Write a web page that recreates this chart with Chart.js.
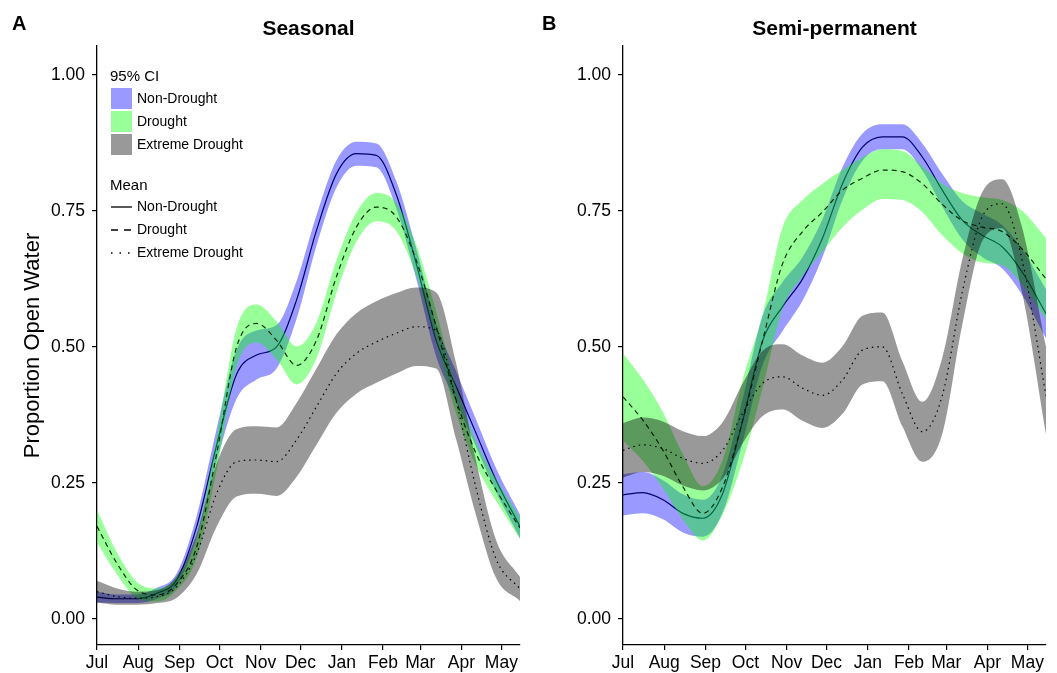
<!DOCTYPE html>
<html>
<head>
<meta charset="utf-8">
<script src="https://cdn.jsdelivr.net/npm/chart.js@4.4.1/dist/chart.umd.min.js"></script>
<style>
    html, body { margin: 0; padding: 0; background: #fff; }
    #wrap { position: relative; width: 1057px; height: 673px; }
    canvas { position: absolute; top: 0; }
    #seasonalChart { left: 0; }
    #semiChart { left: 530px; }
</style>
</head>
<body>
<div id="wrap">
    <canvas id="seasonalChart" width="530" height="673"></canvas>
    <canvas id="semiChart" width="527" height="673"></canvas>
</div>
<script>
// days since 1 July
const days = [0, 15, 30, 45, 60, 75, 90, 105, 120, 135, 150, 165, 180, 195, 210, 225, 240, 255, 270, 285, 300, 318];
const monthTicks = [0, 31, 62, 92, 123, 153, 184, 215, 243, 274, 304];
const monthLabels = ['Jul', 'Aug', 'Sep', 'Oct', 'Nov', 'Dec', 'Jan', 'Feb', 'Mar', 'Apr', 'May'];
const yTicks = [0, 0.25, 0.5, 0.75, 1];

// Seasonal wetlands
const seasNonMean = [0.040, 0.037, 0.037, 0.047, 0.072, 0.170, 0.320, 0.450, 0.485, 0.500, 0.586, 0.714, 0.818, 0.855, 0.852, 0.780, 0.653, 0.512, 0.427, 0.341, 0.255, 0.170];
const seasNonLo = [0.030, 0.029, 0.029, 0.037, 0.060, 0.150, 0.290, 0.405, 0.440, 0.460, 0.551, 0.686, 0.793, 0.833, 0.830, 0.755, 0.625, 0.482, 0.399, 0.316, 0.233, 0.148];
const seasNonHi = [0.050, 0.045, 0.045, 0.057, 0.084, 0.190, 0.350, 0.495, 0.530, 0.540, 0.621, 0.742, 0.843, 0.877, 0.874, 0.805, 0.681, 0.542, 0.455, 0.366, 0.277, 0.192];

const seasDrMean = [0.170, 0.102, 0.053, 0.044, 0.065, 0.133, 0.304, 0.500, 0.543, 0.512, 0.466, 0.512, 0.629, 0.720, 0.757, 0.739, 0.659, 0.537, 0.402, 0.304, 0.237, 0.167];
const seasDrLo = [0.140, 0.082, 0.038, 0.032, 0.053, 0.113, 0.274, 0.465, 0.508, 0.477, 0.431, 0.479, 0.599, 0.693, 0.731, 0.713, 0.631, 0.509, 0.377, 0.282, 0.217, 0.147];
const seasDrHi = [0.200, 0.122, 0.068, 0.056, 0.077, 0.153, 0.334, 0.535, 0.578, 0.547, 0.501, 0.545, 0.659, 0.747, 0.783, 0.765, 0.687, 0.565, 0.427, 0.326, 0.257, 0.187];

const seasExMean = [0.050, 0.041, 0.038, 0.041, 0.059, 0.120, 0.231, 0.289, 0.292, 0.289, 0.329, 0.390, 0.451, 0.488, 0.509, 0.525, 0.537, 0.530, 0.400, 0.240, 0.110, 0.055];
const seasExLo = [0.030, 0.026, 0.026, 0.029, 0.039, 0.083, 0.170, 0.225, 0.230, 0.226, 0.261, 0.320, 0.379, 0.414, 0.434, 0.451, 0.465, 0.460, 0.330, 0.190, 0.075, 0.033];
const seasExHi = [0.070, 0.056, 0.050, 0.053, 0.079, 0.157, 0.286, 0.349, 0.354, 0.352, 0.397, 0.460, 0.523, 0.562, 0.584, 0.599, 0.609, 0.600, 0.470, 0.290, 0.145, 0.077];

// Semi-permanent wetlands
const semiNonMean = [0.228, 0.232, 0.219, 0.194, 0.185, 0.231, 0.365, 0.512, 0.574, 0.625, 0.700, 0.800, 0.867, 0.886, 0.886, 0.849, 0.788, 0.733, 0.705, 0.684, 0.638, 0.561];
const semiNonLo = [0.190, 0.194, 0.183, 0.159, 0.151, 0.196, 0.325, 0.467, 0.529, 0.585, 0.665, 0.770, 0.842, 0.863, 0.863, 0.824, 0.758, 0.698, 0.665, 0.644, 0.596, 0.516];
const semiNonHi = [0.266, 0.270, 0.255, 0.229, 0.219, 0.266, 0.405, 0.557, 0.619, 0.665, 0.735, 0.830, 0.892, 0.909, 0.909, 0.874, 0.818, 0.768, 0.745, 0.724, 0.680, 0.606];

const semiDrMean = [0.408, 0.365, 0.310, 0.243, 0.194, 0.243, 0.365, 0.512, 0.653, 0.712, 0.748, 0.788, 0.810, 0.825, 0.822, 0.800, 0.762, 0.732, 0.720, 0.712, 0.680, 0.625];
const semiDrLo = [0.328, 0.290, 0.240, 0.183, 0.144, 0.193, 0.290, 0.425, 0.570, 0.630, 0.675, 0.720, 0.752, 0.772, 0.770, 0.748, 0.705, 0.672, 0.655, 0.650, 0.615, 0.550];
const semiDrHi = [0.488, 0.440, 0.380, 0.303, 0.244, 0.293, 0.440, 0.560, 0.720, 0.770, 0.800, 0.825, 0.848, 0.863, 0.860, 0.832, 0.800, 0.783, 0.775, 0.770, 0.750, 0.700];

const semiExMean = [0.310, 0.320, 0.313, 0.295, 0.286, 0.310, 0.378, 0.433, 0.445, 0.424, 0.411, 0.439, 0.494, 0.500, 0.414, 0.344, 0.410, 0.600, 0.739, 0.763, 0.660, 0.410];
const semiExLo = [0.260, 0.270, 0.263, 0.245, 0.236, 0.258, 0.323, 0.373, 0.385, 0.364, 0.351, 0.377, 0.431, 0.437, 0.354, 0.289, 0.340, 0.540, 0.694, 0.718, 0.600, 0.340];
const semiExHi = [0.360, 0.370, 0.363, 0.345, 0.336, 0.362, 0.433, 0.493, 0.505, 0.484, 0.471, 0.501, 0.557, 0.563, 0.474, 0.399, 0.480, 0.660, 0.784, 0.808, 0.720, 0.500];

const FONT = '"Liberation Sans", Arial, sans-serif';
const BLUE = 'rgba(0, 0, 255, 0.4)';
const GREEN = 'rgba(0, 255, 0, 0.4)';
const GREY = 'rgba(0, 0, 0, 0.4)';

function pts(vals) {
    return days.map((d, i) => ({ x: d, y: vals[i] }));
}

// two datasets: lower bound, then upper bound filled down to it
function ribbon(lo, hi, color, order) {
    return [{
        data: pts(lo),
        borderWidth: 0,
        pointRadius: 0,
        fill: false,
        cubicInterpolationMode: 'monotone',
        order: order
    }, {
        data: pts(hi),
        borderWidth: 0,
        pointRadius: 0,
        fill: '-1',
        backgroundColor: color,
        cubicInterpolationMode: 'monotone',
        order: order
    }];
}

function meanLine(vals, color, dash, order) {
    return {
        data: pts(vals),
        borderColor: color,
        borderWidth: 1.2,
        borderDash: dash,
        pointRadius: 0,
        fill: false,
        cubicInterpolationMode: 'monotone',
        order: order
    };
}

function drawLegend(ctx) {
    ctx.textAlign = 'left';
    ctx.textBaseline = 'alphabetic';
    ctx.font = '15px ' + FONT;
    ctx.fillText('95% CI', 110, 81);
    const keys = [[BLUE, 'Non-Drought', 88], [GREEN, 'Drought', 111], [GREY, 'Extreme Drought', 134]];
    ctx.font = '14px ' + FONT;
    keys.forEach(k => {
        ctx.fillStyle = k[0];
        ctx.fillRect(111, k[2], 21, 21);
        ctx.fillStyle = '#000';
        ctx.textBaseline = 'middle';
        ctx.fillText(k[1], 137, k[2] + 11);
    });
    ctx.textBaseline = 'alphabetic';
    ctx.font = '15px ' + FONT;
    ctx.fillText('Mean', 110, 190);
    const lines = [[[], 'Non-Drought', 207], [[7, 6], 'Drought', 230], [[1.5, 7], 'Extreme Drought', 253]];
    ctx.font = '14px ' + FONT;
    lines.forEach(l => {
        ctx.strokeStyle = '#000';
        ctx.lineWidth = 1.3;
        ctx.setLineDash(l[0]);
        ctx.beginPath();
        ctx.moveTo(111, l[2]);
        ctx.lineTo(132, l[2]);
        ctx.stroke();
        ctx.setLineDash([]);
        ctx.textBaseline = 'middle';
        ctx.fillText(l[1], 137, l[2]);
    });
}

const panelText = {
    id: 'panelText',
    afterDraw(chart, args, opts) {
        const ctx = chart.ctx;
        const area = chart.chartArea;
        ctx.save();
        ctx.fillStyle = '#000';
        ctx.textAlign = 'left';
        ctx.textBaseline = 'alphabetic';
        ctx.font = 'bold 20px ' + FONT;
        ctx.fillText(opts.tag, 12, 30);
        ctx.textAlign = 'center';
        ctx.font = 'bold 21px ' + FONT;
        ctx.fillText(opts.title, (area.left + area.right) / 2, 35);
        if (opts.yTitle) {
            ctx.save();
            ctx.translate(33, (area.top + area.bottom) / 2);
            ctx.rotate(-Math.PI / 2);
            ctx.textBaseline = 'middle';
            ctx.font = '22px ' + FONT;
            ctx.fillText(opts.yTitle, 0, 0);
            ctx.restore();
        }
        if (opts.legend) drawLegend(ctx);
        ctx.restore();
    }
};

function makePanel(canvasId, p) {
    const ctx = document.getElementById(canvasId).getContext('2d');
    const datasets = [].concat(
        ribbon(p.nonLo, p.nonHi, BLUE, 6),
        [meanLine(p.nonMean, '#000070', [], 5)],
        ribbon(p.drLo, p.drHi, GREEN, 4),
        [meanLine(p.drMean, '#003000', [5, 4], 3)],
        ribbon(p.exLo, p.exHi, GREY, 2),
        [meanLine(p.exMean, '#000000', [1.5, 4], 1)]
    );
    return new Chart(ctx, {
        type: 'line',
        data: { datasets: datasets },
        options: {
            responsive: false,
            animation: false,
            events: [],
            layout: { padding: { left: 0, right: p.padRight, top: 46, bottom: 0 } },
            plugins: {
                legend: { display: false },
                tooltip: { enabled: false },
                panelText: { tag: p.tag, title: p.title, yTitle: p.yTitle, legend: p.legend }
            },
            scales: {
                x: {
                    type: 'linear',
                    min: 0,
                    max: 318,
                    afterBuildTicks: scale => { scale.ticks = monthTicks.map(v => ({ value: v })); },
                    afterFit: scale => { scale.height = 28; },
                    ticks: {
                        autoSkip: false,
                        maxRotation: 0,
                        padding: 3,
                        color: '#000',
                        font: { family: FONT, size: 17.5 },
                        callback: v => monthLabels[monthTicks.indexOf(v)]
                    },
                    grid: { drawOnChartArea: false, tickLength: 5, color: '#000', lineWidth: 1.2 },
                    border: { display: true, color: '#000', width: 1.3 }
                },
                y: {
                    min: -0.048,
                    max: 1.053,
                    afterBuildTicks: scale => { scale.ticks = yTicks.map(v => ({ value: v })); },
                    afterFit: scale => { scale.width = p.yWidth; },
                    ticks: {
                        padding: 7,
                        color: '#000',
                        font: { family: FONT, size: 17.5 },
                        callback: v => v.toFixed(2)
                    },
                    grid: { drawOnChartArea: false, tickLength: 5, color: '#000', lineWidth: 1.2 },
                    border: { display: true, color: '#000', width: 1.3 }
                }
            }
        },
        plugins: [panelText]
    });
}

makePanel('seasonalChart', {
    tag: 'A', title: 'Seasonal', yTitle: 'Proportion Open Water', legend: true,
    yWidth: 97, padRight: 10,
    nonMean: seasNonMean, nonLo: seasNonLo, nonHi: seasNonHi,
    drMean: seasDrMean, drLo: seasDrLo, drHi: seasDrHi,
    exMean: seasExMean, exLo: seasExLo, exHi: seasExHi
});

makePanel('semiChart', {
    tag: 'B', title: 'Semi-permanent', yTitle: null, legend: false,
    yWidth: 93, padRight: 11,
    nonMean: semiNonMean, nonLo: semiNonLo, nonHi: semiNonHi,
    drMean: semiDrMean, drLo: semiDrLo, drHi: semiDrHi,
    exMean: semiExMean, exLo: semiExLo, exHi: semiExHi
});
</script>
</body>
</html>
